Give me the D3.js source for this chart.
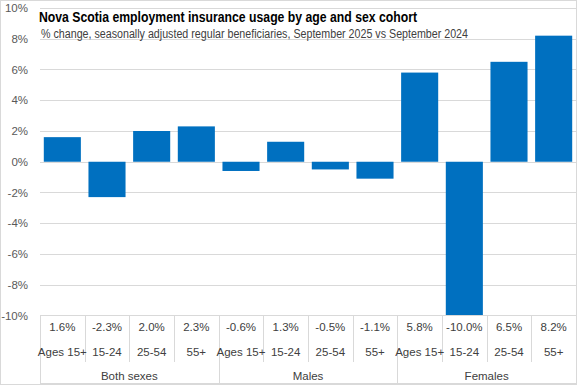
<!DOCTYPE html>
<html>
<head>
<meta charset="utf-8">
<script src="https://cdn.jsdelivr.net/npm/d3@7"></script>
<style>
  body { margin: 0; background: #fff; }
  svg { display: block; font-family: "Liberation Sans", Arial, sans-serif; }
</style>
</head>
<body>
<div id="chart"></div>
<script>
const groups = ["Both sexes", "Males", "Females"];
const ages = ["Ages 15+", "15-24", "25-54", "55+"];
const values = [1.6, -2.3, 2.0, 2.3, -0.6, 1.3, -0.5, -1.1, 5.8, -10.0, 6.5, 8.2];
const yTicks = [-10, -8, -6, -4, -2, 0, 2, 4, 6, 8, 10];

const width = 577, height = 385;
const left = 40, right = 576, plotTop = 8, plotBottom = 315.5;

const svg = d3.select("#chart").append("svg")
    .attr("width", width)
    .attr("height", height);

svg.append("rect")
    .attr("x", 0.5).attr("y", 0.5)
    .attr("width", width - 1).attr("height", height - 1)
    .attr("fill", "#fff").attr("stroke", "#d9d9d9");

const cats = values.map((v, i) => i);
const x = d3.scaleBand().domain(cats).range([left, right]).paddingInner(0.17).paddingOuter(0.085);
const cols = d3.scaleBand().domain(cats).range([left, right]);
const y = d3.scaleLinear().domain([-10, 10]).range([plotBottom, plotTop]);

// gridlines
svg.append("g").selectAll("line")
    .data(yTicks.filter(t => t !== -10))
    .enter().append("line")
    .attr("x1", left).attr("x2", right)
    .attr("y1", d => Math.round(y(d)) + 0.5)
    .attr("y2", d => Math.round(y(d)) + 0.5)
    .attr("stroke", "#d9d9d9");

// y tick labels
svg.append("g").selectAll("text")
    .data(yTicks)
    .enter().append("text")
    .attr("x", 28)
    .attr("y", d => y(d))
    .attr("dy", "0.35em")
    .attr("text-anchor", "end")
    .attr("font-size", 11.5)
    .attr("fill", "#595959")
    .text(d => d + "%");

// bars
svg.append("g").selectAll("rect")
    .data(values)
    .enter().append("rect")
    .attr("x", (d, i) => x(i))
    .attr("width", x.bandwidth())
    .attr("y", d => y(Math.max(0, d)))
    .attr("height", d => Math.abs(y(d) - y(0)))
    .attr("fill", "#0070c0");

// table
const table = svg.append("g").attr("stroke", "#d9d9d9").attr("fill", "none");
table.append("line").attr("x1", left).attr("x2", right).attr("y1", 315.5).attr("y2", 315.5);
table.append("line").attr("x1", left).attr("x2", right).attr("y1", 383.5).attr("y2", 383.5);
table.selectAll(".col")
    .data(d3.range(13))
    .enter().append("line")
    .attr("x1", i => Math.round(i < 12 ? cols(i) : right) + 0.5)
    .attr("x2", i => Math.round(i < 12 ? cols(i) : right) + 0.5)
    .attr("y1", 315.5)
    .attr("y2", i => i % 4 === 0 ? 383.5 : 362);

const labels = svg.append("g").attr("font-size", 11.5).attr("fill", "#404040").attr("text-anchor", "middle");
labels.selectAll(".val")
    .data(values)
    .enter().append("text")
    .attr("x", (d, i) => cols(i) + cols.bandwidth() / 2)
    .attr("y", 331)
    .text(d => d.toFixed(1) + "%");
labels.selectAll(".age")
    .data(values)
    .enter().append("text")
    .attr("x", (d, i) => cols(i) + cols.bandwidth() / 2)
    .attr("y", 356)
    .text((d, i) => ages[i % 4]);
labels.selectAll(".grp")
    .data(groups)
    .enter().append("text")
    .attr("x", (d, i) => cols(i * 4) + cols.bandwidth() * 2)
    .attr("y", 380)
    .text(d => d);

// titles (squeezed to mimic the narrow face of the original)
svg.append("text")
    .attr("x", 39).attr("y", 22)
    .attr("font-size", 15).attr("font-weight", "bold")
    .attr("fill", "#000")
    .attr("textLength", 378).attr("lengthAdjust", "spacingAndGlyphs")
    .text("Nova Scotia employment insurance usage by age and sex cohort");
svg.append("text")
    .attr("x", 41).attr("y", 38)
    .attr("font-size", 12)
    .attr("fill", "#404040")
    .attr("textLength", 427).attr("lengthAdjust", "spacingAndGlyphs")
    .text("% change, seasonally adjusted regular beneficiaries, September 2025 vs September 2024");
</script>
</body>
</html>
